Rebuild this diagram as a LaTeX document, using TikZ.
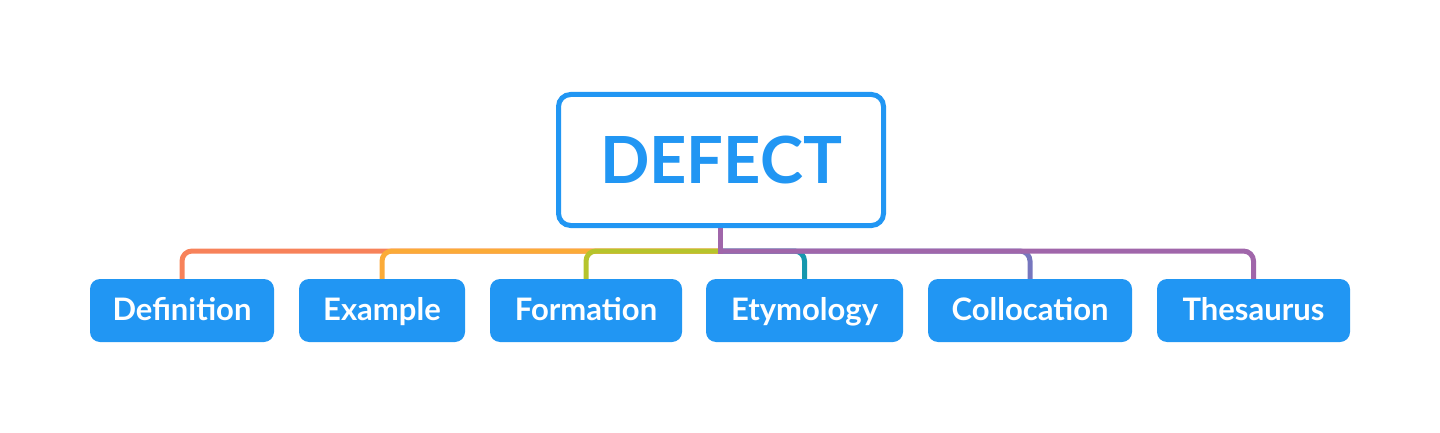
\documentclass[tikz,border=0pt]{standalone}
\usepackage{fontspec}
\setmainfont{Lato}
\definecolor{mainblue}{HTML}{2196F3}
\definecolor{csalmon}{HTML}{F7825A}
\definecolor{corange}{HTML}{FBAB38}
\definecolor{cgreen}{HTML}{B6C42C}
\definecolor{cteal}{HTML}{1698AE}
\definecolor{cviolet}{HTML}{7676BE}
\definecolor{cpurple}{HTML}{A066AA}
\tikzset{
  rootbox/.style={draw=mainblue, line width=5pt, fill=white, rounded corners=12pt,
    minimum width=325pt, minimum height=131pt, text=mainblue,
    font=\fontsize{65}{70}\selectfont\bfseries, inner sep=0pt,
    text height=48pt, text depth=2pt},
  leafbox/.style={fill=mainblue, rounded corners=10pt, minimum height=63pt,
    text=white, font=\fontsize{31}{34}\selectfont\bfseries, inner sep=0pt,
    text height=21pt, text depth=2pt},
  conn/.style={line width=5pt, rounded corners=10pt}
}
\begin{document}
\begin{tikzpicture}[x=1pt,y=1pt]
\useasboundingbox (0,0) rectangle (1440,432);
\node[rootbox] (root) at (721,272) {DEFECT};
\coordinate (bus) at (720,181);
\node[leafbox, minimum width=184pt] (def) at (182,121.5) {Definition};
\node[leafbox, minimum width=166pt] (exa) at (382,121.5) {Example};
\node[leafbox, minimum width=192pt] (for) at (586,121.5) {Formation};
\node[leafbox, minimum width=197pt] (ety) at (804.5,121.5) {Etymology};
\node[leafbox, minimum width=204pt] (col) at (1030,121.5) {Collocation};
\node[leafbox, minimum width=193pt] (the) at (1253.5,121.5) {Thesaurus};
\draw[conn, csalmon] (bus) -| (def.north);
\draw[conn, corange] (bus) -| (exa.north);
\draw[conn, cgreen] (bus) -| (for.north);
\draw[conn, cteal] (bus) -| (ety.north);
\draw[conn, cviolet] (bus) -| (col.north);
\draw[conn, cpurple] (bus) -| (the.north);
\coordinate (stemend) at (720,178.5);
\draw[line width=5pt, cpurple] (root.south -| bus) -- (stemend);
\end{tikzpicture}
\end{document}
